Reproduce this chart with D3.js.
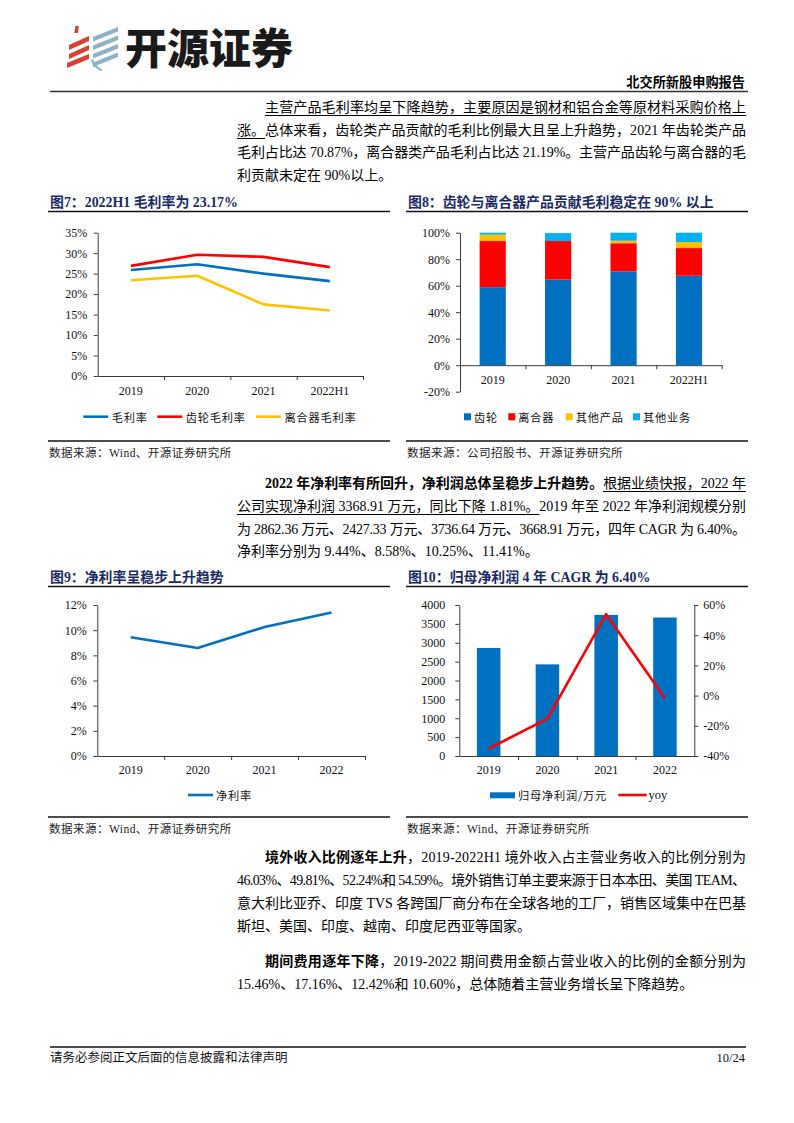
<!DOCTYPE html>
<html><head><meta charset="utf-8">
<script src="https://cdn.jsdelivr.net/npm/d3@7"></script>
<style>
body{margin:0;background:#fff;}
#page{position:relative;width:794px;height:1123px;overflow:hidden;background:#fff;}
#page svg{position:absolute;left:0;top:0;}
.ln{position:absolute;white-space:nowrap;font-family:"Liberation Serif","Noto Sans CJK SC",serif;font-size:14px;color:#000;line-height:20px;}
.ln b{font-family:"Liberation Serif","Noto Sans CJK SC",serif;font-weight:bold;}
.ln u{text-decoration:underline;text-underline-offset:3px;text-decoration-thickness:1px;}
</style></head>
<body><div id="page"></div>
<script>
// ---------------- data ----------------
const cat7 = ["2019","2020","2021","2022H1"];
const grossMargin = [0.259,0.273,0.250,0.2317];
const gearMargin = [0.269,0.296,0.291,0.266];
const clutchMargin = [0.234,0.245,0.175,0.160];
const ticks7 = [0,0.05,0.10,0.15,0.20,0.25,0.30,0.35];
const legend7 = ["毛利率","齿轮毛利率","离合器毛利率"];

const cat8 = ["2019","2020","2021","2022H1"];
const shareGear = [0.589,0.646,0.7087,0.675];
const shareClutch = [0.348,0.291,0.2119,0.209];
const shareOtherProd = [0.048,-0.006,0.019,0.046];
const shareOtherBiz = [0.015,0.060,0.0604,0.070];
const ticks8 = [-0.2,0,0.2,0.4,0.6,0.8,1.0];
const legend8 = ["齿轮","离合器","其他产品","其他业务"];

const cat9 = ["2019","2020","2021","2022"];
const netMargin = [0.0944,0.0858,0.1025,0.1141];
const ticks9 = [0,0.02,0.04,0.06,0.08,0.10,0.12];
const legend9 = ["净利率"];

const cat10 = ["2019","2020","2021","2022"];
const netProfit = [2862.36,2427.33,3736.64,3668.91];
const yoy = [-0.352,-0.152,0.539,-0.0181];
const ticks10L = [0,500,1000,1500,2000,2500,3000,3500,4000];
const ticks10R = [-0.4,-0.2,0,0.2,0.4,0.6];
const legend10 = ["归母净利润/万元","yoy"];

// ---------------- styles ----------------
const SERIF = '"Liberation Serif","Noto Sans CJK SC",serif';
const CJK = '"Noto Sans CJK SC","Liberation Serif",sans-serif';
const AX = "#3a3a3a";
const TITLE = "#1B2A66";
const C_BLUE="#0070C0", C_RED="#FF0000", C_YEL="#FFC000", C_LBLUE="#00B0F0";
const pct = d => Math.round(d*100)+"%";

const page = d3.select("#page");
const svg = page.append("svg").attr("width",794).attr("height",1123);

// ---------------- header ----------------
const logo = svg.append("g");
const red="#D8412F", blu="#8FB3C6";
logo.append("rect").attr("x",79).attr("y",26).attr("width",3.5).attr("height",7).attr("fill",red).attr("transform","skewX(-8)");
[36,45,54].forEach((y0,i)=>{
  const xl = 67 + (i===2?0:2);
  logo.append("path").attr("d",`M${xl},${y0+9} L89,${y0} L89,${y0+5} L${xl},${y0+14} Z`).attr("fill",red);
});
[27,35.5,44,52.5].forEach((y0,i)=>{
  logo.append("path").attr("d",`M93,${y0+10} L118,${y0} L118,${y0+4.5} L93,${y0+14.5} Z`).attr("fill",blu);
});
logo.append("path").attr("d","M93,59 Q95,66 103,70 L101,71 Q92,67 91,60 Z").attr("fill",blu);

svg.append("text").attr("x",125).attr("y",64).text("开源证券")
  .attr("font-family",CJK).attr("font-weight",900).attr("font-size",42).attr("fill","#1a1a1a");
svg.append("text").attr("x",745).attr("y",86.5).attr("text-anchor","end").text("北交所新股申购报告")
  .attr("font-family",CJK).attr("font-weight",700).attr("font-size",13.2).attr("fill","#000");
svg.append("line").attr("x1",50).attr("x2",748).attr("y1",91.5).attr("y2",91.5).attr("stroke","#333").attr("stroke-width",1.3);

// footer
svg.append("line").attr("x1",50).attr("x2",746).attr("y1",1047).attr("y2",1047).attr("stroke","#111").attr("stroke-width",1.3);
svg.append("text").attr("x",50).attr("y",1062).text("请务必参阅正文后面的信息披露和法律声明")
  .attr("font-family",CJK).attr("font-size",12.5).attr("fill","#111");
svg.append("text").attr("x",745).attr("y",1062).attr("text-anchor","end").text("10/24")
  .attr("font-family",SERIF).attr("font-size",12.5).attr("fill","#111");

// ---------------- frame helper ----------------
function frame(x0,x1,titleY,bottomY,title,source){
  svg.append("text").attr("x",x0+2).attr("y",titleY+4.8).text(title)
    .attr("font-family",SERIF).attr("font-weight","bold").attr("font-size",13.9).attr("fill",TITLE);
  svg.append("line").attr("x1",x0).attr("x2",x1).attr("y1",titleY+9.5).attr("y2",titleY+9.5).attr("stroke","#111").attr("stroke-width",1.3);
  svg.append("line").attr("x1",x0).attr("x2",x1).attr("y1",bottomY).attr("y2",bottomY).attr("stroke","#111").attr("stroke-width",1.3);
  svg.append("text").attr("x",x0+1).attr("y",bottomY+15.5).text(source)
    .attr("font-family",SERIF).attr("font-size",11.6).attr("letter-spacing",0.4).attr("fill","#222");
}
function styleAxis(g){
  g.attr("font-family",null).attr("font-size",null);
  g.selectAll("path,line").attr("stroke",AX).attr("stroke-width",1);
  g.selectAll("text").attr("font-family",SERIF).attr("font-size",12).attr("fill","#111");
  return g;
}
function boundaryAxis(x, y, n, vals){
  const xb = d3.scaleLinear().domain([0,n]).range(x.range());
  const g = svg.append("g").attr("transform",`translate(0,${y})`)
    .call(d3.axisBottom(xb).tickValues(vals).tickFormat("").tickSize(4).tickSizeOuter(0));
  styleAxis(g);
  return g;
}
function labelAxis(x,y,pad){
  const g = svg.append("g").attr("transform",`translate(0,${y})`)
    .call(d3.axisBottom(x).tickSize(0).tickPadding(pad));
  g.select(".domain").remove();
  styleAxis(g);
}
function legendText(x,y,t,font){
  svg.append("text").attr("x",x).attr("y",y).attr("dominant-baseline","central").text(t)
    .attr("font-family",font||CJK).attr("font-size",11.2).attr("letter-spacing",0.8).attr("fill","#111");
}

// ---------------- Chart 7 ----------------
frame(48,390,202,441,"图7：2022H1 毛利率为 23.17%","数据来源：Wind、开源证券研究所");
{
  const x = d3.scaleBand().domain(cat7).range([97.7,363]);
  const y = d3.scaleLinear().domain([0,0.35]).range([376,232.7]);
  styleAxis(svg.append("g").attr("transform","translate(97.7,0)")
    .call(d3.axisLeft(y).tickValues(ticks7).tickFormat(pct).tickSize(4).tickPadding(6.5).tickSizeOuter(0)));
  boundaryAxis(x,376,4,[1,2,3,4]);
  labelAxis(x,376,10);
  const series = [[grossMargin,C_BLUE],[gearMargin,C_RED],[clutchMargin,C_YEL]];
  const line = d3.line().x((d,i)=>x(cat7[i])+x.bandwidth()/2).y(d=>y(d));
  series.forEach(([vals,c])=>svg.append("path").attr("d",line(vals)).attr("fill","none")
    .attr("stroke",c).attr("stroke-width",2.6).attr("stroke-linejoin","round"));
  const lx = [83.3,157.3,256];
  legend7.forEach((t,i)=>{
    svg.append("line").attr("x1",lx[i]).attr("x2",lx[i]+25).attr("y1",416.7).attr("y2",416.7)
      .attr("stroke",series[i][1]).attr("stroke-width",2.6);
    legendText(lx[i]+28.5,417,t);
  });
}

// ---------------- Chart 8 ----------------
frame(406,748,202,441,"图8：齿轮与离合器产品贡献毛利稳定在 90% 以上","数据来源：公司招股书、开源证券研究所");
{
  const x = d3.scaleBand().domain(cat8).range([460,721.7]).paddingInner(0.6).paddingOuter(0.3);
  const xf = d3.scaleBand().domain(cat8).range([460,721.7]);
  const y = d3.scaleLinear().domain([-0.2,1.0]).range([391.7,232.7]);
  const keys = ["gear","clutch","otherProd","otherBiz"];
  const colors = [C_BLUE,C_RED,C_YEL,C_LBLUE];
  const table = cat8.map((c,i)=>({cat:c,gear:shareGear[i],clutch:shareClutch[i],otherProd:shareOtherProd[i],otherBiz:shareOtherBiz[i]}));
  const stack = d3.stack().keys(keys).offset(d3.stackOffsetDiverging)(table);
  stack.forEach((s,k)=>{
    svg.append("g").selectAll("rect").data(s).join("rect")
      .attr("x",d=>x(d.data.cat)).attr("width",x.bandwidth())
      .attr("y",d=>y(Math.max(d[0],d[1]))).attr("height",d=>Math.abs(y(d[0])-y(d[1])))
      .attr("fill",colors[k]);
  });
  styleAxis(svg.append("g").attr("transform","translate(460,0)")
    .call(d3.axisLeft(y).tickValues(ticks8).tickFormat(pct).tickSize(4).tickPadding(6).tickSizeOuter(0)));
  boundaryAxis(xf,y(0),4,[1,2,3,4]);
  labelAxis(xf,y(0),10.5);
  const lx = [464,508.3,565.7,633];
  legend8.forEach((t,i)=>{
    svg.append("rect").attr("x",lx[i]).attr("y",413.3).attr("width",7).attr("height",7).attr("fill",colors[i]);
    legendText(lx[i]+10,417,t);
  });
}

// ---------------- Chart 9 ----------------
frame(48,390,577,817,"图9：净利率呈稳步上升趋势","数据来源：Wind、开源证券研究所");
{
  const x = d3.scaleBand().domain(cat9).range([97.3,365]);
  const y = d3.scaleLinear().domain([0,0.12]).range([756,605]);
  styleAxis(svg.append("g").attr("transform","translate(97.3,0)")
    .call(d3.axisLeft(y).tickValues(ticks9).tickFormat(pct).tickSize(4).tickPadding(6.5).tickSizeOuter(0)));
  boundaryAxis(x,756,4,[1,2,3,4]);
  labelAxis(x,756,9.5);
  const line = d3.line().x((d,i)=>x(cat9[i])+x.bandwidth()/2).y(d=>y(d));
  svg.append("path").attr("d",line(netMargin)).attr("fill","none").attr("stroke",C_BLUE)
    .attr("stroke-width",2.6).attr("stroke-linejoin","round");
  svg.append("line").attr("x1",188).attr("x2",213).attr("y1",795).attr("y2",795).attr("stroke",C_BLUE).attr("stroke-width",2.6);
  legendText(216,795.3,legend9[0]);
}

// ---------------- Chart 10 ----------------
frame(406,748,577,817,"图10：归母净利润 4 年 CAGR 为 6.40%","数据来源：Wind、开源证券研究所");
{
  const x = d3.scaleBand().domain(cat10).range([459.3,694.3]).paddingInner(0.6).paddingOuter(0.3);
  const xf = d3.scaleBand().domain(cat10).range([459.3,694.3]);
  const yL = d3.scaleLinear().domain([0,4000]).range([756,605]);
  const yR = d3.scaleLinear().domain([-0.4,0.6]).range([756,605]);
  svg.append("g").selectAll("rect").data(netProfit).join("rect")
    .attr("x",(d,i)=>x(cat10[i])).attr("width",x.bandwidth())
    .attr("y",d=>yL(d)).attr("height",d=>yL(0)-yL(d)).attr("fill",C_BLUE);
  styleAxis(svg.append("g").attr("transform","translate(459.3,0)")
    .call(d3.axisLeft(yL).tickValues(ticks10L).tickFormat(d3.format("d")).tickSize(4).tickPadding(10).tickSizeOuter(0)));
  styleAxis(svg.append("g").attr("transform","translate(694.3,0)")
    .call(d3.axisRight(yR).tickValues(ticks10R).tickFormat(pct).tickSize(4).tickPadding(5).tickSizeOuter(0)));
  boundaryAxis(xf,756,4,[1,2,3]);
  labelAxis(xf,756,9.5);
  const line = d3.line().x((d,i)=>xf(cat10[i])+xf.bandwidth()/2).y(d=>yR(d));
  svg.append("path").attr("d",line(yoy)).attr("fill","none").attr("stroke",C_RED)
    .attr("stroke-width",2.6).attr("stroke-linejoin","round");
  svg.append("rect").attr("x",490).attr("y",792.3).attr("width",25).attr("height",6).attr("fill",C_BLUE);
  legendText(518,795.3,legend10[0]);
  svg.append("line").attr("x1",618.3).attr("x2",646.7).attr("y1",795).attr("y2",795).attr("stroke",C_RED).attr("stroke-width",2.6);
  svg.append("text").attr("x",648.5).attr("y",795.3).attr("dominant-baseline","central").text(legend10[1])
    .attr("font-family",SERIF).attr("font-size",12.5).attr("fill","#111");
}

// ---------------- paragraphs ----------------
const L = 237, R = 746, IND = 265;
const lines = [
  [IND,108,true,'<u>主营产品毛利率均呈下降趋势，主要原因是钢材和铝合金等原材料采购价格上</u>'],
  [L,130.5,true,'<u>涨。</u>总体来看，齿轮类产品贡献的毛利比例最大且呈上升趋势，2021 年齿轮类产品'],
  [L,153,true,'毛利占比达 70.87%，离合器类产品毛利占比达 21.19%。主营产品齿轮与离合器的毛'],
  [L,175.5,false,'利贡献未定在 90%以上。'],
  [IND,484,true,'<b>2022 年净利率有所回升，净利润总体呈稳步上升趋势。</b><u>根据业绩快报，2022 年</u>'],
  [L,507,true,'<u>公司实现净利润 3368.91 万元，同比下降 1.81%。</u>2019 年至 2022 年净利润规模分别'],
  [L,529.5,true,'为 2862.36 万元、2427.33 万元、3736.64 万元、3668.91 万元，四年 CAGR 为 6.40%。'],
  [L,552,false,'净利率分别为 9.44%、8.58%、10.25%、11.41%。'],
  [IND,858,true,'<b>境外收入比例逐年上升</b>，2019-2022H1 境外收入占主营业务收入的比例分别为'],
  [L,881,true,'46.03%、49.81%、52.24%和 54.59%。境外销售订单主要来源于日本本田、美国 TEAM、'],
  [L,904,true,'意大利比亚乔、印度 TVS 各跨国厂商分布在全球各地的工厂，销售区域集中在巴基'],
  [L,927,false,'斯坦、美国、印度、越南、印度尼西亚等国家。'],
  [IND,962,true,'<b>期间费用逐年下降</b>，2019-2022 期间费用金额占营业收入的比例的金额分别为'],
  [L,985,false,'15.46%、17.16%、12.42%和 10.60%，总体随着主营业务增长呈下降趋势。']
];
lines.forEach(([x,cy,just,html])=>{
  const d = page.append("div").attr("class","ln").style("left",x+"px").style("top",(cy-10)+"px").html(html);
  if(just){
    const el = d.node();
    const w = el.getBoundingClientRect().width;
    const n = el.textContent.length;
    const ls = (R - x - w)/(n-1);
    d.style("letter-spacing",ls+"px");
  }
});
</script>
</body></html>
